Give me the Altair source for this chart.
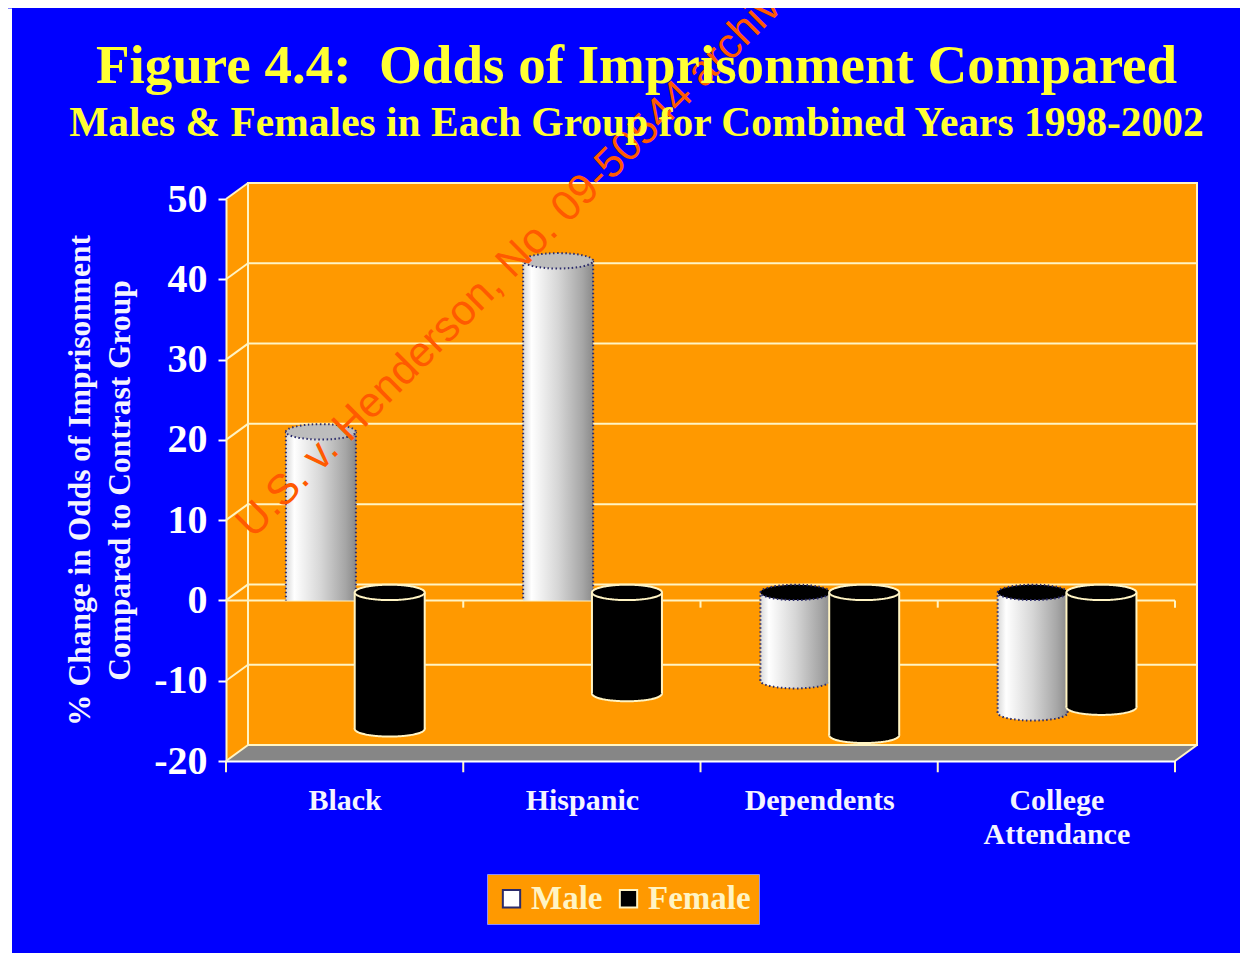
import altair as alt
import pandas as pd

# ---------- data ----------
categories = ["Black", "Hispanic", "Dependents", "College\nAttendance"]
male_values = [20, 41.3, -11, -15]
female_values = [-17, -12.6, -17.8, -14.3]
y_ticks = [-20, -10, 0, 10, 20, 30, 40, 50]
series = ["Male", "Female"]

# ---------- geometry (page pixels to data units) ----------
PX_X = 237.25        # pixels per category
PX_Y = 8.03          # pixels per percentage point
X0, Y0 = 226, 600    # page position of x=0, y=0
def ux(p): return (p - X0) / PX_X
def uy(p): return (Y0 - p) / PX_Y

DX, DY = 22 / PX_X, 16 / PX_Y     # depth of the 3-D box
CYL_W = 0.295
CYL_LIFT = 1.0
OFFSET = {"Male": 0.40, "Female": 0.69}

BLUE = "#0000ff"
ORANGE = "#ff9900"
PALE = "#fff4c4"
GRAY = "#868686"
DOT = "#2b2b6b"
YELLOW = "#ffff33"
SERIF = "Liberation Serif"

xs = alt.Scale(domain=[0, 4], nice=False, zero=False)
ys = alt.Scale(domain=[-20, 50], nice=False, zero=False)
X = alt.X("x:Q", scale=xs)
Y = alt.Y("y:Q", scale=ys)
X2 = alt.X2("x2")
Y2 = alt.Y2("y2")

rows = []
for name, vals in zip(series, [male_values, female_values]):
    for i, (c, v) in enumerate(zip(categories, vals)):
        cx = i + OFFSET[name]
        rows.append(dict(series=name, cat=c, v=v, x=cx - CYL_W / 2, x2=cx + CYL_W / 2, xc=cx,
                         y=v + CYL_LIFT, y2=(0 if v > 0 else CYL_LIFT),
                         ytop=(v if v > 0 else 0) + CYL_LIFT,
                         ymid=v / 2))
cyl = pd.DataFrame(rows)

grad = {"gradient": "linear", "x1": 0, "x2": 1, "y1": 0, "y2": 0,
        "stops": [{"offset": 0, "color": "#d8d8d8"}, {"offset": 0.12, "color": "#ffffff"},
                  {"offset": 0.5, "color": "#d6d6d6"}, {"offset": 0.85, "color": "#a6a6a6"},
                  {"offset": 1, "color": "#8a8a8a"}]}
ELLIPSE = "M-1,0A1,0.22,0,1,1,1,0A1,0.22,0,1,1,-1,0Z"
ELLIPSE_SIZE = (CYL_W * PX_X) ** 2

strip = pd.DataFrame([dict(x=ux(8), x2=ux(12), y=uy(8), y2=uy(953))])
bg = alt.Chart(strip).mark_rect(color="#ffffff").encode(
    x=alt.X("x:Q", scale=xs, title=None,
            axis=alt.Axis(values=[0.5, 1.5, 2.5, 3.5], ticks=False, grid=False, domainColor="white",
                          domainWidth=2, labelAngle=0, labelColor="#f4f4ff", labelFont=SERIF,
                          labelFontWeight="bold", labelFontSize=30, labelPadding=24, labelLineHeight=34,
                          labelExpr="split(['Black','Hispanic','Dependents','College\\nAttendance'][floor(datum.value)], '\\n')",
                          labelBaseline="top", labelFlush=False, labelOverlap=False, zindex=1)),
    x2=X2,
    y=alt.Y("y:Q", scale=ys,
            title=["% Change in Odds of Imprisonment", "Compared to Contrast Group"],
            axis=alt.Axis(values=y_ticks, tickColor="white", tickSize=8, tickWidth=2, grid=False,
                          domainColor=PALE, domainWidth=2, labelColor="white", labelFont=SERIF,
                          labelFontWeight="bold", labelFontSize=40, labelPadding=11,
                          labelExpr="'' + datum.value", labelFlush=False, labelOverlap=False,
                          titleColor="#f4f4ff", titleFont=SERIF, titleFontWeight="bold",
                          titleFontSize=31.5, titlePadding=17, titleLineHeight=40, zindex=1)),
    y2=Y2,
)

left_wall = alt.Chart(pd.DataFrame([dict(x=0, y=-20, y2=50), dict(x=DX, y=-20 + DY, y2=50 + DY)])
    ).mark_area(color=ORANGE).encode(x=X, y=Y, y2=Y2)
back_wall = alt.Chart(pd.DataFrame([dict(x=DX, x2=4 + DX, y=-20 + DY, y2=50 + DY)])
    ).mark_rect(color=ORANGE, stroke=PALE, strokeWidth=2).encode(x=X, x2=X2, y=Y, y2=Y2)
floor = alt.Chart(pd.DataFrame([dict(x=0, y=-20, y2=-20), dict(x=DX, y=-20, y2=-20 + DY),
                                dict(x=4, y=-20, y2=-20 + DY), dict(x=4 + DX, y=-20 + DY, y2=-20 + DY)])
    ).mark_area(color=GRAY).encode(x=X, y=Y, y2=Y2)

grid_back = alt.Chart(pd.DataFrame([dict(x=DX, x2=4 + DX, y=v + DY, y2=v + DY) for v in y_ticks])
    ).mark_rule(color=PALE, strokeWidth=2).encode(x=X, x2=X2, y=Y, y2=Y2)
grid_side = alt.Chart(pd.DataFrame([dict(x=0, x2=DX, y=v, y2=v + DY) for v in y_ticks]
                                   + [dict(x=4, x2=4 + DX, y=-20, y2=-20 + DY)])
    ).mark_rule(color=PALE, strokeWidth=2).encode(x=X, x2=X2, y=Y, y2=Y2)
zero_line = alt.Chart(pd.DataFrame([dict(x=0, x2=4, y=0, y2=0)])
    ).mark_rule(color=PALE, strokeWidth=2).encode(x=X, x2=X2, y=Y, y2=Y2)
ticks = alt.Chart(pd.DataFrame([dict(x=k, y=0, y2=-0.9) for k in range(1, 5)]
                               + [dict(x=k, y=-20, y2=-21.4) for k in range(0, 5)])
    ).mark_rule(color=PALE, strokeWidth=2).encode(x=X, y=Y, y2=Y2)

# hidden under the cylinder bodies; carries the legend
legend_carrier = alt.Chart(cyl).mark_square(size=190, opacity=1, strokeWidth=2, filled=True).encode(
    x=alt.X("xc:Q", scale=xs),
    y=alt.Y("ymid:Q", scale=ys),
    color=alt.Color("series:N", sort=series,
                    scale=alt.Scale(domain=series, range=["#ffffff", "#000000"]),
                    legend=alt.Legend(title=None, orient="none", direction="horizontal", columns=2,
                                      legendX=261, legendY=675, fillColor=ORANGE, strokeColor="#8c8cff",
                                      padding=8, labelColor=PALE, labelFont=SERIF, labelFontWeight="bold",
                                      labelFontSize=33, symbolType="square", symbolSize=300,
                                      symbolStrokeWidth=2, columnPadding=9, labelOffset=3,
                                      labelLimit=200, rowPadding=0)),
    stroke=alt.Stroke("series:N", sort=series,
                      scale=alt.Scale(domain=series, range=[DOT, PALE]), legend=None),
)

def cylinder(name, body_fill, edge, dash, top_fill_fn):
    d = cyl[cyl.series == name]
    neg = d[d.v < 0]
    sw = 2
    layers = []
    # bottom cap of cylinders hanging below zero
    layers.append(alt.Chart(neg).mark_point(shape=ELLIPSE, size=ELLIPSE_SIZE, filled=True, fill=body_fill,
                                            stroke=edge, strokeWidth=sw, strokeDash=dash, opacity=1).encode(
        x=alt.X("xc:Q", scale=xs), y=Y))
    # body
    layers.append(alt.Chart(d).mark_rect(fill=body_fill).encode(x=X, x2=X2, y=Y, y2=Y2))
    # side edges
    for col in ["x", "x2"]:
        layers.append(alt.Chart(d).mark_rule(color=edge, strokeWidth=sw, strokeDash=dash).encode(
            x=alt.X(f"{col}:Q", scale=xs), y=Y, y2=Y2))
    # top caps
    d2 = d.assign(capfill=[top_fill_fn(v) for v in d.v])
    layers.append(alt.Chart(d2).mark_point(shape=ELLIPSE, size=ELLIPSE_SIZE, filled=True, stroke=edge,
                                           strokeWidth=sw, strokeDash=dash, opacity=1).encode(
        x=alt.X("xc:Q", scale=xs),
        y=alt.Y("ytop:Q", scale=ys),
        fill=alt.Fill("capfill:N", scale=None, legend=None)))
    return layers

male_layers = cylinder("Male", grad, DOT, [1.5, 2.5], lambda v: "#bdbdbd" if v > 0 else "#000000")
female_layers = cylinder("Female", "#000000", PALE, [1, 0], lambda v: "#000000")

watermark = alt.Chart(pd.DataFrame([dict(x=ux(253), y=uy(539), t="U.S. v. Henderson, No. 09-50544 archive")])
    ).mark_text(color="#ff5a00", font="Liberation Sans", fontSize=42.5, angle=315, align="left",
                baseline="alphabetic").encode(x=X, y=Y, text="t:N")

chart = alt.layer(
    bg, left_wall, back_wall, floor, grid_back, grid_side, zero_line, ticks,
    legend_carrier, *male_layers, *female_layers, watermark,
).properties(
    width=949, height=562,
    padding={"left": 218, "top": 191, "right": 65, "bottom": 192},
    background=BLUE,
    autosize=alt.AutoSizeParams(type="none"),
    title=alt.TitleParams(
        text="Figure 4.4:\u00a0 Odds of Imprisonment Compared",
        subtitle="Males & Females in Each Group for Combined Years 1998-2002",
        font=SERIF, fontWeight="bold", fontSize=55, color=YELLOW,
        subtitleFont=SERIF, subtitleFontWeight="bold", subtitleFontSize=41.5, subtitleColor=YELLOW,
        anchor="middle", frame="group", dx=-64, offset=-177, subtitlePadding=8,
    ),
).configure_view(stroke=None).configure_axis(grid=False)

chart.save("out.html", embed_options={"renderer": "svg", "actions": False})
